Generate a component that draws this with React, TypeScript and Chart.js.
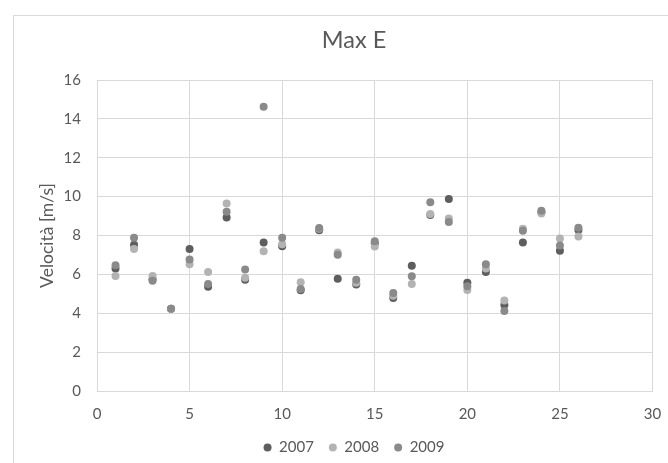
import React, { useEffect, useRef } from "react";
import { Chart, registerables } from "chart.js";

Chart.register(...registerables);

const xValues = [1, 2, 3, 4, 5, 6, 7, 8, 9, 10, 11, 12, 13, 14, 15, 16, 17, 18, 19, 20, 21, 22, 23, 24, 25, 26];
const series2007 = [6.30, 7.53, 5.75, 4.23, 7.31, 5.36, 8.93, 5.72, 7.64, 7.45, 5.18, 8.27, 5.78, 5.48, 7.60, 4.78, 6.44, 9.05, 9.88, 5.57, 6.12, 4.43, 7.64, 9.20, 7.22, 8.28];
const series2008 = [5.92, 7.31, 5.92, 4.23, 6.52, 6.12, 9.64, 5.83, 7.19, 7.55, 5.60, 8.35, 7.13, 5.57, 7.43, 4.90, 5.50, 9.10, 8.87, 5.20, 6.30, 4.66, 8.35, 9.13, 7.85, 7.95];
const series2009 = [6.47, 7.88, 5.67, 4.23, 6.77, 5.50, 9.22, 6.25, 14.62, 7.88, 5.25, 8.39, 7.01, 5.72, 7.71, 5.04, 5.90, 9.71, 8.70, 5.39, 6.52, 4.12, 8.25, 9.27, 7.48, 8.40];
const seriesNames = ["2007", "2008", "2009"];
const title = "Max E";
const yTitle = "Velocità [m/s]";

const FONT = "Lato";
const TEXT = "#595959";
const GRID = "#d9d9d9";
const CANVAS_H = 465;

export default function App() {
  const ref = useRef<HTMLCanvasElement>(null);
  useEffect(() => {
    if (!ref.current) return;
    const mk = (vals: number[]) => xValues.map((x, i) => ({ x, y: vals[i] }));
    const ds = (label: string, vals: number[], color: string) => ({
      label,
      data: mk(vals),
      backgroundColor: color,
      borderColor: color,
      pointRadius: 4,
      pointBorderWidth: 0,
      pointHoverRadius: 4,
    });
    // reversed so 2009 is drawn on top; legend reversed back
    const chart = new Chart(ref.current, {
      type: "scatter",
      data: {
        datasets: [
          ds(seriesNames[2], series2009, "#8a8a8a"),
          ds(seriesNames[1], series2008, "#b3b3b3"),
          ds(seriesNames[0], series2007, "#5e5e5e"),
        ],
      },
      options: {
        animation: false,
        responsive: false,
        events: [],
        layout: { padding: 0 },
        plugins: {
          tooltip: { enabled: false },
          title: {
            display: true,
            text: title,
            color: TEXT,
            font: { family: FONT, size: 23.5, weight: "normal" },
            padding: { top: 25.9, bottom: 25.9 },
          },
          legend: {
            position: "bottom",
            reverse: true,
            labels: {
              usePointStyle: true,
              pointStyle: "circle",
              boxWidth: 8,
              boxHeight: 5.66,
              padding: 15,
              color: TEXT,
              font: { family: FONT, size: 15 },
            },
          },
        },
        scales: {
          x: {
            type: "linear",
            min: 0,
            max: 30,
            ticks: { stepSize: 5, color: TEXT, font: { family: FONT, size: 15 }, padding: 14 },
            grid: { color: GRID, drawTicks: false },
            border: { color: GRID },
            afterFit: (s: any) => { s.height = CANVAS_H - 45 - 386; },
          },
          y: {
            type: "linear",
            min: 0,
            max: 16,
            ticks: { stepSize: 2, color: TEXT, font: { family: FONT, size: 15 }, padding: 16 },
            grid: { color: GRID, drawTicks: false },
            border: { color: GRID },
            title: {
              display: true,
              text: yTitle,
              color: TEXT,
              font: { family: FONT, size: 17.5 },
              padding: { top: 36.5, bottom: 0 },
            },
            afterFit: (s: any) => { s.width = 97; },
          },
          y2: {
            type: "linear",
            position: "right",
            display: true,
            min: 0,
            max: 16,
            ticks: { display: false },
            grid: { display: false },
            border: { display: false },
            afterFit: (s: any) => { s.width = 708 - 652.5; },
          },
        },
      },
    });
    return () => chart.destroy();
  }, []);
  return (
    <div style={{ position: "fixed", left: 0, top: 0, width: 668, height: 463, overflow: "hidden", background: "#fff" }}>
      <div style={{ position: "absolute", left: 13, top: 15, width: 720, height: 520, border: "1px solid #d9d9d9", boxSizing: "border-box" }} />
      <canvas ref={ref} width={708} height={CANVAS_H} style={{ position: "absolute", left: 0, top: 0, width: 708, height: CANVAS_H }} />
    </div>
  );
}
